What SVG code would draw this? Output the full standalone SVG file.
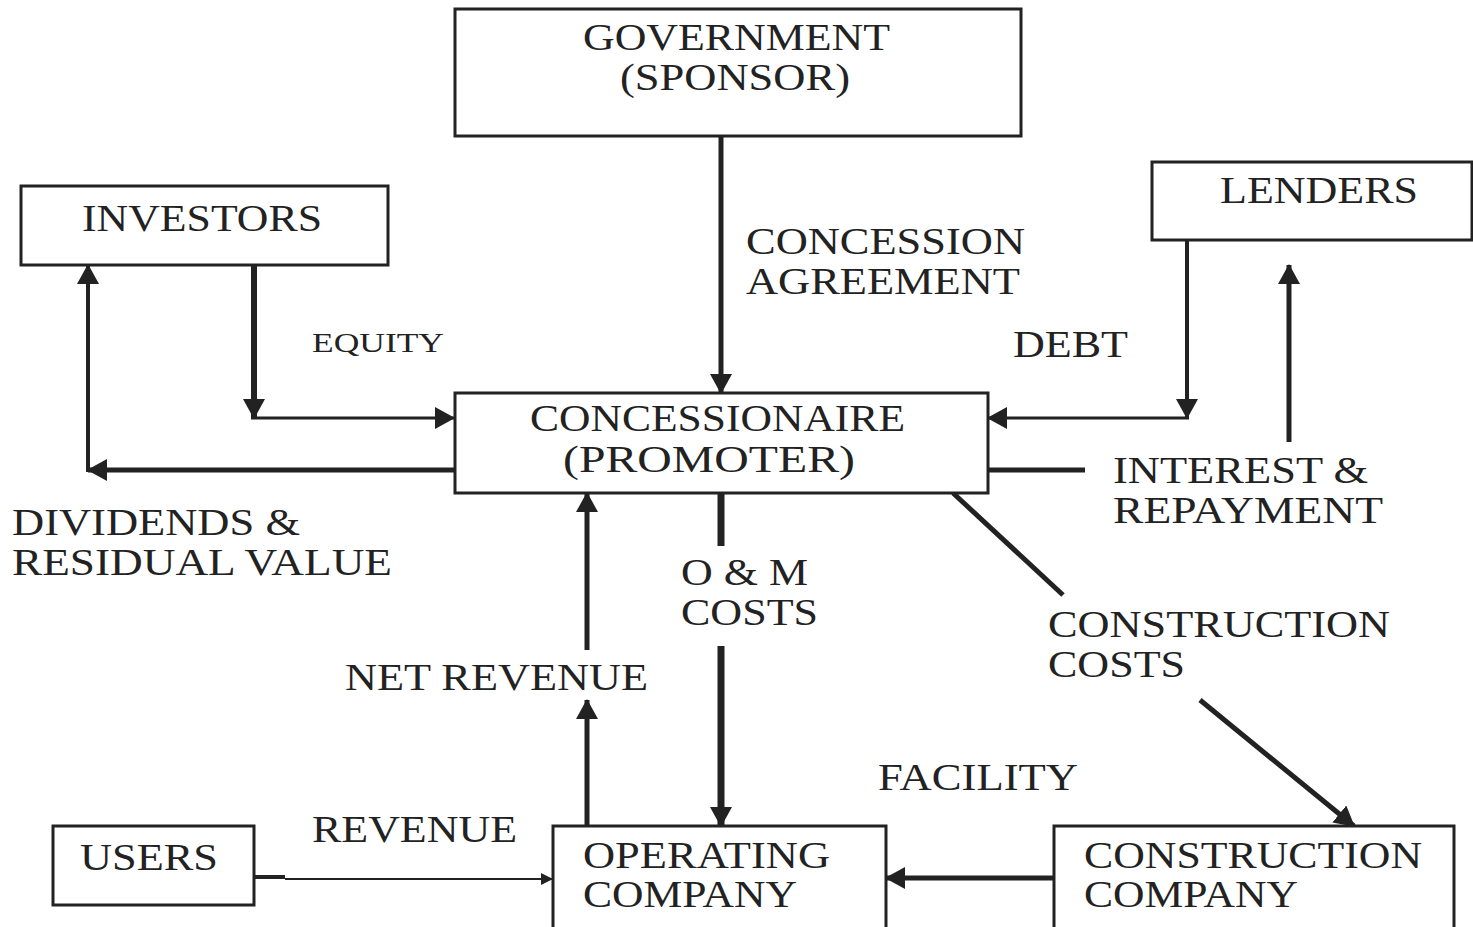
<svg xmlns="http://www.w3.org/2000/svg" width="1473" height="927" viewBox="0 0 1473 927">
<style>
.box{fill:#fff;stroke:#222;stroke-width:3}
.t{font-family:"Liberation Serif",serif;font-size:37px;fill:#222}
.s{font-size:28px}
.c{fill:none;stroke:#222;stroke-linecap:butt}
</style>
<defs>
<marker id="ah" markerUnits="userSpaceOnUse" markerWidth="20" markerHeight="22" refX="19" refY="11" orient="auto" viewBox="0 0 20 22">
<path d="M0,0 L20,11 L0,22 z" fill="#222"/>
</marker>
<marker id="ahs" markerUnits="userSpaceOnUse" markerWidth="12" markerHeight="12" refX="11" refY="6" orient="auto" viewBox="0 0 12 12">
<path d="M0,0 L12,6 L0,12 z" fill="#222"/>
</marker>
</defs>
<rect width="1473" height="927" fill="#fff"/>
<g id="connectors">
<line class="c" x1="721" y1="136" x2="721" y2="393" stroke-width="5" marker-end="url(#ah)"/>
<line class="c" x1="254" y1="262" x2="254" y2="418" stroke-width="6" marker-end="url(#ah)"/>
<line class="c" x1="251" y1="418" x2="454" y2="418" stroke-width="3" marker-end="url(#ah)"/>
<line class="c" x1="454" y1="470" x2="88" y2="470" stroke-width="5" marker-end="url(#ah)"/>
<line class="c" x1="88" y1="472" x2="88" y2="265" stroke-width="4" marker-end="url(#ah)"/>
<line class="c" x1="1187" y1="238" x2="1187" y2="418" stroke-width="4" marker-end="url(#ah)"/>
<line class="c" x1="1189" y1="418" x2="988" y2="418" stroke-width="3" marker-end="url(#ah)"/>
<line class="c" x1="988" y1="470" x2="1085" y2="470" stroke-width="5"/>
<line class="c" x1="1289" y1="442" x2="1289" y2="265" stroke-width="5" marker-end="url(#ah)"/>
<line class="c" x1="721" y1="493" x2="721" y2="546" stroke-width="7"/>
<line class="c" x1="721" y1="646" x2="721" y2="826" stroke-width="7" marker-end="url(#ah)"/>
<line class="c" x1="587" y1="826" x2="587" y2="700" stroke-width="5" marker-end="url(#ah)"/>
<line class="c" x1="587" y1="650" x2="587" y2="493" stroke-width="5" marker-end="url(#ah)"/>
<line class="c" x1="953" y1="493" x2="1063" y2="595" stroke-width="5"/>
<line class="c" x1="1200" y1="700" x2="1354" y2="826" stroke-width="5" marker-end="url(#ah)"/>
<line class="c" x1="1054" y1="878" x2="886" y2="878" stroke-width="5" marker-end="url(#ah)"/>
<line class="c" x1="254" y1="877" x2="285" y2="877" stroke-width="4"/>
<line class="c" x1="285" y1="879" x2="552" y2="879" stroke-width="2" marker-end="url(#ahs)"/>
</g>
<g id="government">
<rect class="box" x="455" y="9" width="566" height="127"/>
<text class="t" x="583" y="50" textLength="307" lengthAdjust="spacingAndGlyphs">GOVERNMENT</text>
<text class="t" x="620" y="90" textLength="230" lengthAdjust="spacingAndGlyphs">(SPONSOR)</text>
</g>
<g id="investors">
<rect class="box" x="21" y="186" width="367" height="79"/>
<text class="t" x="82" y="231" textLength="240" lengthAdjust="spacingAndGlyphs">INVESTORS</text>
</g>
<g id="lenders">
<rect class="box" x="1152" y="162" width="320" height="78"/>
<text class="t" x="1220" y="203" textLength="198" lengthAdjust="spacingAndGlyphs">LENDERS</text>
</g>
<g id="concessionaire">
<rect class="box" x="455" y="393" width="533" height="100"/>
<text class="t" x="530" y="431" textLength="375" lengthAdjust="spacingAndGlyphs">CONCESSIONAIRE</text>
<text class="t" x="563" y="472" textLength="292" lengthAdjust="spacingAndGlyphs">(PROMOTER)</text>
</g>
<g id="users">
<rect class="box" x="53" y="826" width="201" height="79"/>
<text class="t" x="80" y="870" textLength="138" lengthAdjust="spacingAndGlyphs">USERS</text>
</g>
<g id="operating">
<rect class="box" x="553" y="826" width="333" height="120"/>
<text class="t" x="583" y="868" textLength="247" lengthAdjust="spacingAndGlyphs">OPERATING</text>
<text class="t" x="583" y="907" textLength="214" lengthAdjust="spacingAndGlyphs">COMPANY</text>
</g>
<g id="construction">
<rect class="box" x="1054" y="826" width="400" height="120"/>
<text class="t" x="1084" y="868" textLength="338" lengthAdjust="spacingAndGlyphs">CONSTRUCTION</text>
<text class="t" x="1084" y="907" textLength="214" lengthAdjust="spacingAndGlyphs">COMPANY</text>
</g>
<g id="labels">
<text class="t" x="746" y="254" textLength="279" lengthAdjust="spacingAndGlyphs">CONCESSION</text>
<text class="t" x="746" y="294" textLength="274" lengthAdjust="spacingAndGlyphs">AGREEMENT</text>
<text class="t s" x="312" y="352" textLength="132" lengthAdjust="spacingAndGlyphs">EQUITY</text>
<text class="t" x="1013" y="357" textLength="115" lengthAdjust="spacingAndGlyphs">DEBT</text>
<text class="t" x="1113" y="483" textLength="255" lengthAdjust="spacingAndGlyphs">INTEREST &amp;</text>
<text class="t" x="1113" y="523" textLength="270" lengthAdjust="spacingAndGlyphs">REPAYMENT</text>
<text class="t" x="12" y="535" textLength="288" lengthAdjust="spacingAndGlyphs">DIVIDENDS &amp;</text>
<text class="t" x="12" y="575" textLength="380" lengthAdjust="spacingAndGlyphs">RESIDUAL VALUE</text>
<text class="t" x="681" y="585" textLength="127" lengthAdjust="spacingAndGlyphs">O &amp; M</text>
<text class="t" x="681" y="625" textLength="137" lengthAdjust="spacingAndGlyphs">COSTS</text>
<text class="t" x="345" y="690" textLength="303" lengthAdjust="spacingAndGlyphs">NET REVENUE</text>
<text class="t" x="1048" y="637" textLength="342" lengthAdjust="spacingAndGlyphs">CONSTRUCTION</text>
<text class="t" x="1048" y="677" textLength="137" lengthAdjust="spacingAndGlyphs">COSTS</text>
<text class="t" x="878" y="790" textLength="200" lengthAdjust="spacingAndGlyphs">FACILITY</text>
<text class="t" x="312" y="842" textLength="205" lengthAdjust="spacingAndGlyphs">REVENUE</text>
</g>
</svg>
